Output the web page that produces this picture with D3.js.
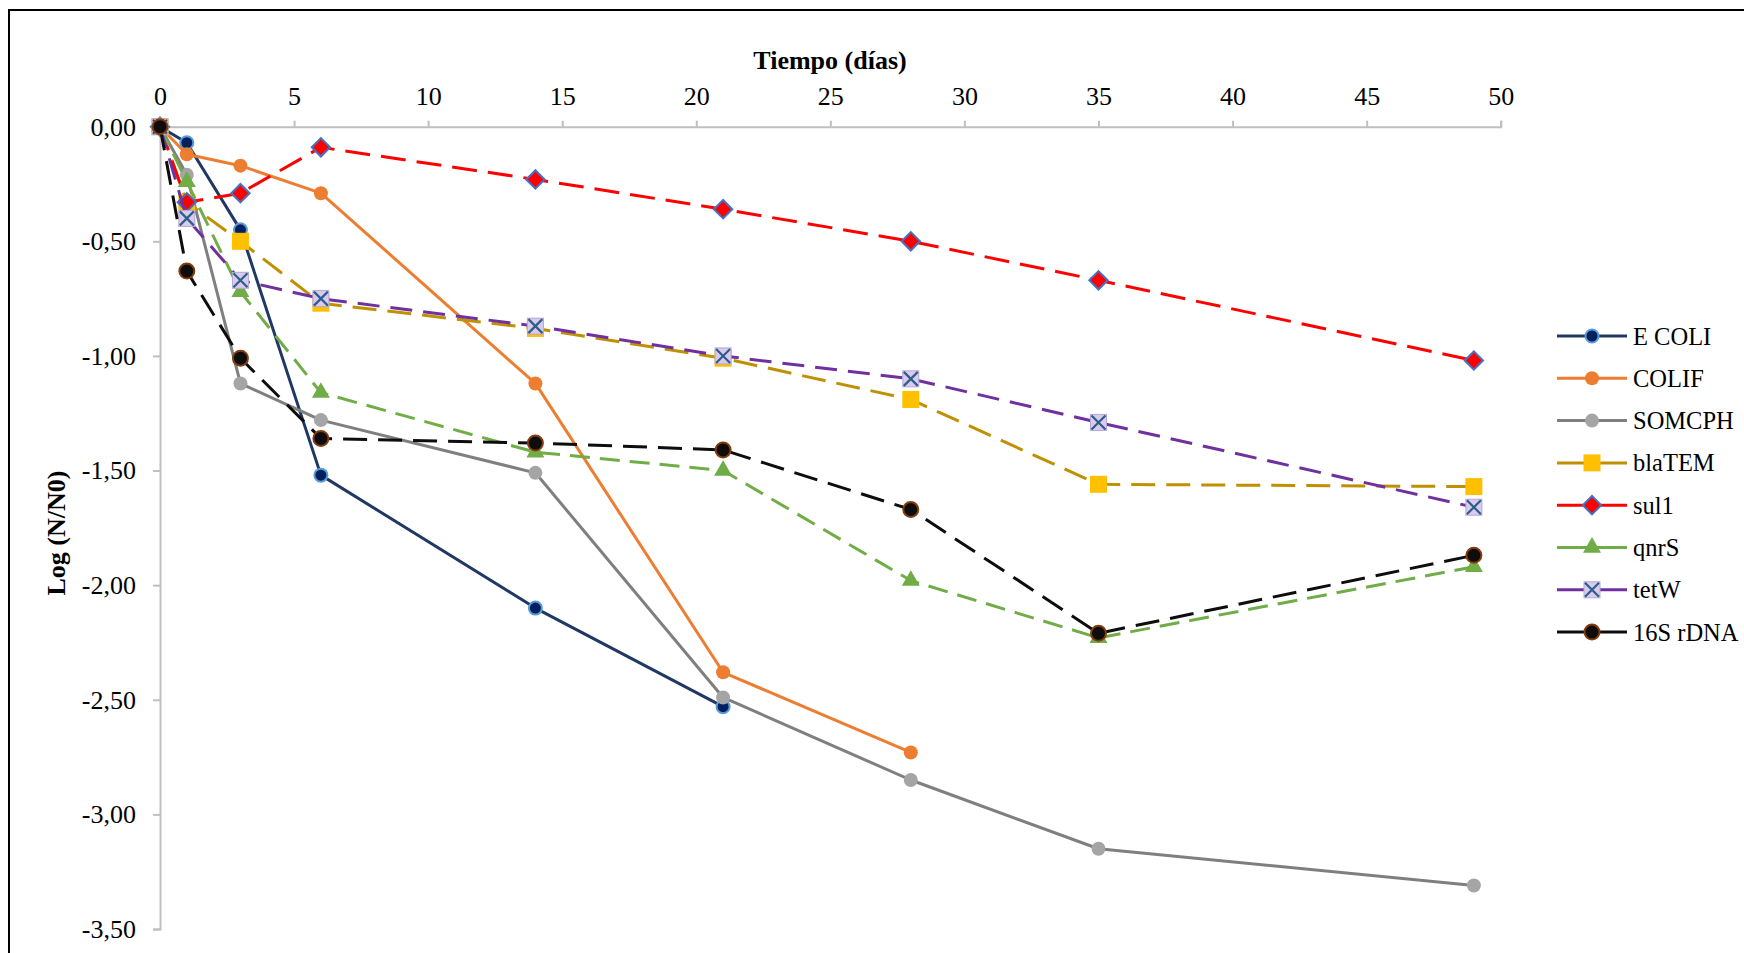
<!DOCTYPE html>
<html>
<head>
<meta charset="utf-8">
<script src="https://cdn.jsdelivr.net/npm/d3@7"></script>
<style>
  html, body { margin: 0; padding: 0; background: #fff; }
  svg { display: block; }
  text { font-family: "Liberation Serif", "Times New Roman", serif; fill: #000; }
</style>
</head>
<body>
<svg id="chart" width="1744" height="953"></svg>
<script>
// ---------- DATA ----------
const days = [0, 1, 3, 6, 14, 21, 28, 35, 49];
const seriesNames = ["E COLI", "COLIF", "SOMCPH", "blaTEM", "sul1", "qnrS", "tetW", "16S rDNA"];
const ecoli  = [0, -0.07, -0.45, -1.52, -2.10, -2.53];
const colif  = [0, -0.12, -0.17, -0.29, -1.12, -2.38, -2.73];
const somcph = [0, -0.21, -1.12, -1.28, -1.51, -2.49, -2.85, -3.15, -3.31];
const blatem = [0, -0.33, -0.50, -0.77, -0.88, -1.01, -1.19, -1.56, -1.57];
const sul1   = [0, -0.33, -0.29, -0.09, -0.23, -0.36, -0.50, -0.67, -1.02];
const qnrs   = [0, -0.24, -0.72, -1.16, -1.42, -1.50, -1.98, -2.23, -1.92];
const tetw   = [0, -0.40, -0.67, -0.75, -0.87, -1.00, -1.10, -1.29, -1.66];
const rdna16 = [0, -0.63, -1.01, -1.36, -1.38, -1.41, -1.67, -2.21, -1.87];
const xTicks = [0, 5, 10, 15, 20, 25, 30, 35, 40, 45, 50];
const yTicks = [0, -0.5, -1, -1.5, -2, -2.5, -3, -3.5];
const xTitle = "Tiempo (días)";
const yTitle = "Log (N/N0)";

// ---------- STYLES ----------
const styles = {
  "E COLI":   {line: "#1F3864", dash: null,    marker: "circle",   fill: "#002060", stroke: "#5B9BD5", size: 6.5, sw: 2},
  "COLIF":    {line: "#ED7D31", dash: null,    marker: "circle",   fill: "#ED7D31", stroke: "#ED7D31", size: 7,   sw: 0},
  "SOMCPH":   {line: "#7F7F7F", dash: null,    marker: "circle",   fill: "#A5A5A5", stroke: "#A5A5A5", size: 7,   sw: 0},
  "blaTEM":   {line: "#BF9000", dash: "24,11", marker: "square",   fill: "#FFC000", stroke: "#FFC000", size: 17,  sw: 0},
  "sul1":     {line: "#FF0000", dash: "25,11", marker: "diamond",  fill: "#FF0000", stroke: "#4472C4", size: 13,  sw: 2},
  "qnrS":     {line: "#70AD47", dash: "20,10", marker: "triangle", fill: "#70AD47", stroke: "#70AD47", size: 18,  sw: 0},
  "tetW":     {line: "#7030A0", dash: "22,11", marker: "xsquare",  fill: "#D9CCEA", stroke: "#B4A7D6", size: 16,  sw: 1},
  "16S rDNA": {line: "#0D0D0D", dash: "24,11", marker: "circle",   fill: "#0D0D0D", stroke: "#843C0C", size: 7.5, sw: 2}
};
const seriesValues = [ecoli, colif, somcph, blatem, sul1, qnrs, tetw, rdna16];

// ---------- LAYOUT ----------
const svg = d3.select("#chart");
const x = d3.scaleLinear().domain([0, 50]).range([160, 1500.7]);
const y = d3.scaleLinear().domain([0, -3.5]).range([126.7, 929]);
const fmt = v => (v < 0 ? "-" : "") + Math.abs(v).toFixed(2).replace(".", ",");

// frame
svg.append("path")
  .attr("d", "M9,1000 L9,10 L1800,10")
  .attr("fill", "none").attr("stroke", "#000").attr("stroke-width", 2);

// axes
const axisColor = "#BFBFBF";
const xAxis = svg.append("g").attr("transform", `translate(0,${y(0)})`)
  .call(d3.axisTop(x).tickValues(xTicks).tickSize(6).tickPadding(16).tickSizeOuter(6).tickFormat(d3.format("d")));
const yAxis = svg.append("g").attr("transform", `translate(${x(0)},0)`)
  .call(d3.axisLeft(y).tickValues(yTicks).tickSize(7).tickPadding(17).tickSizeOuter(7).tickFormat(fmt));
[xAxis, yAxis].forEach(g => {
  g.select(".domain").attr("stroke", axisColor).attr("stroke-width", 2);
  g.selectAll(".tick line").attr("stroke", axisColor).attr("stroke-width", 2);
  g.selectAll(".tick text").attr("font-size", 26).attr("font-family", "Liberation Serif").attr("fill", "#000");
});

// titles
svg.append("text").attr("x", 830).attr("y", 68.5).attr("text-anchor", "middle")
  .attr("font-size", 26).attr("font-weight", "bold").text(xTitle);
svg.append("text").attr("transform", "translate(64.5,533) rotate(-90)").attr("text-anchor", "middle")
  .attr("font-size", 26).attr("font-weight", "bold").text(yTitle);

// markers
function drawMarker(g, st, cx, cy) {
  const m = st.marker;
  if (m === "circle") {
    g.append("circle").attr("cx", cx).attr("cy", cy).attr("r", st.size)
      .attr("fill", st.fill).attr("stroke", st.sw ? st.stroke : "none").attr("stroke-width", st.sw);
  } else if (m === "square") {
    g.append("rect").attr("x", cx - st.size / 2).attr("y", cy - st.size / 2)
      .attr("width", st.size).attr("height", st.size).attr("fill", st.fill);
  } else if (m === "diamond") {
    g.append("path").attr("d", d3.symbol(d3.symbolSquare, st.size * st.size)())
      .attr("transform", `translate(${cx},${cy}) rotate(45)`)
      .attr("fill", st.fill).attr("stroke", st.stroke).attr("stroke-width", st.sw);
  } else if (m === "triangle") {
    const s = st.size, h = s * Math.sqrt(3) / 2;
    g.append("path")
      .attr("d", `M${cx},${cy - h * 2 / 3} L${cx + s / 2},${cy + h / 3} L${cx - s / 2},${cy + h / 3} Z`)
      .attr("fill", st.fill);
  } else if (m === "xsquare") {
    const s = st.size;
    g.append("rect").attr("x", cx - s / 2).attr("y", cy - s / 2).attr("width", s).attr("height", s)
      .attr("fill", st.fill).attr("stroke", st.stroke).attr("stroke-width", st.sw);
    g.append("path")
      .attr("d", `M${cx - s / 2 + 1},${cy - s / 2 + 1} L${cx + s / 2 - 1},${cy + s / 2 - 1} M${cx + s / 2 - 1},${cy - s / 2 + 1} L${cx - s / 2 + 1},${cy + s / 2 - 1}`)
      .attr("stroke", "#2F5C8F").attr("stroke-width", 2.2).attr("fill", "none");
  }
}

// series
const line = d3.line().x(d => x(d.day)).y(d => y(d.v));
seriesNames.forEach((name, i) => {
  const st = styles[name];
  const pts = seriesValues[i].map((v, j) => ({day: days[j], v}));
  const g = svg.append("g");
  g.append("path").datum(pts).attr("d", line)
    .attr("fill", "none").attr("stroke", st.line).attr("stroke-width", 3)
    .attr("stroke-linejoin", "round")
    .attr("stroke-dasharray", st.dash);
  pts.forEach(p => drawMarker(g, st, x(p.day), y(p.v)));
});

// legend
const legY0 = 336, legDY = 42.3;
seriesNames.forEach((name, i) => {
  const st = styles[name];
  const cy = legY0 + i * legDY;
  const g = svg.append("g");
  g.append("line").attr("x1", 1557).attr("x2", 1627).attr("y1", cy).attr("y2", cy)
    .attr("stroke", st.line).attr("stroke-width", 3);
  drawMarker(g, st, 1592, cy);
  g.append("text").attr("x", 1633).attr("y", cy + 8.5).attr("font-size", 24.5).text(name);
});
</script>
</body>
</html>
